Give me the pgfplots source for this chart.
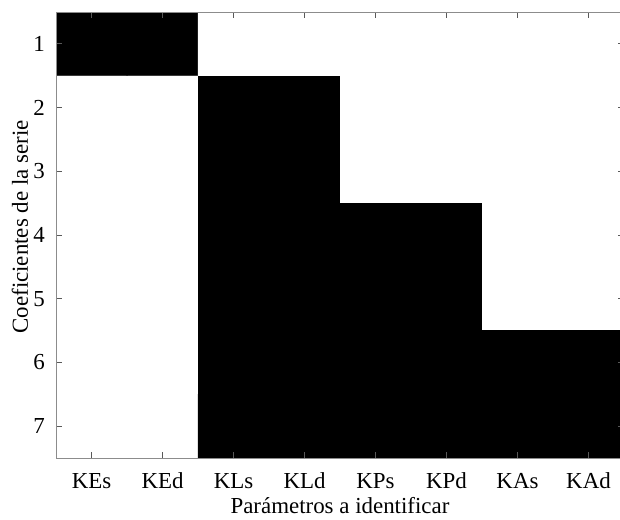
\documentclass[border=0pt]{standalone}
\usepackage{pgfplots}
\pgfplotsset{compat=1.18}
\usepackage{fontspec}
\setmainfont{Liberation Serif}
\begin{document}
\begin{tikzpicture}[font=\fontsize{23}{27}\selectfont]
\begin{axis}[
  at={(0,0)}, anchor=south west,
  scale only axis, width=568bp, height=446bp,
  xmin=0.5, xmax=8.5, ymin=0.5, ymax=7.5,
  y dir=reverse,
  xtick={1,...,8},
  xticklabels={KEs,KEd,KLs,KLd,KPs,KPd,KAs,KAd},
  ytick={1,...,7},
  tick align=inside,
  major tick length=6bp,
  axis on top,
  axis line style={draw=black!45, line width=0.8bp},
  every tick/.style={draw=black!65, line width=0.8bp},
  tick label style={font=\fontsize{23}{27}\selectfont},
  label style={font=\fontsize{23}{27}\selectfont},
  xticklabel style={anchor=base, yshift=-30bp},
  yticklabel style={anchor=east, inner sep=0pt, xshift=-11bp},
  /pgf/number format/assume math mode=true,
  xlabel={Parámetros a identificar},
  ylabel={Coeficientes de la serie},
  xlabel style={at={(axis description cs:0.5,0)}, anchor=base, yshift=-55bp, inner sep=0pt},
  ylabel style={at={(axis description cs:0,0.518)}, anchor=base, yshift=28bp, inner sep=0pt},
  colormap={bw}{color=(white) color=(black)},
  point meta min=0, point meta max=1,
]
\addplot[matrix plot*, mesh/cols=8, point meta=explicit, shader=flat corner] table[meta=c] {
x y c
1 1 1
2 1 1
3 1 0
4 1 0
5 1 0
6 1 0
7 1 0
8 1 0
1 2 0
2 2 0
3 2 1
4 2 1
5 2 0
6 2 0
7 2 0
8 2 0
1 3 0
2 3 0
3 3 1
4 3 1
5 3 0
6 3 0
7 3 0
8 3 0
1 4 0
2 4 0
3 4 1
4 4 1
5 4 1
6 4 1
7 4 0
8 4 0
1 5 0
2 5 0
3 5 1
4 5 1
5 5 1
6 5 1
7 5 0
8 5 0
1 6 0
2 6 0
3 6 1
4 6 1
5 6 1
6 6 1
7 6 1
8 6 1
1 7 0
2 7 0
3 7 1
4 7 1
5 7 1
6 7 1
7 7 1
8 7 1
};
\end{axis}
\pgfresetboundingbox
\useasboundingbox (-56bp,-62bp) rectangle (564bp,458bp);
\end{tikzpicture}
\end{document}
